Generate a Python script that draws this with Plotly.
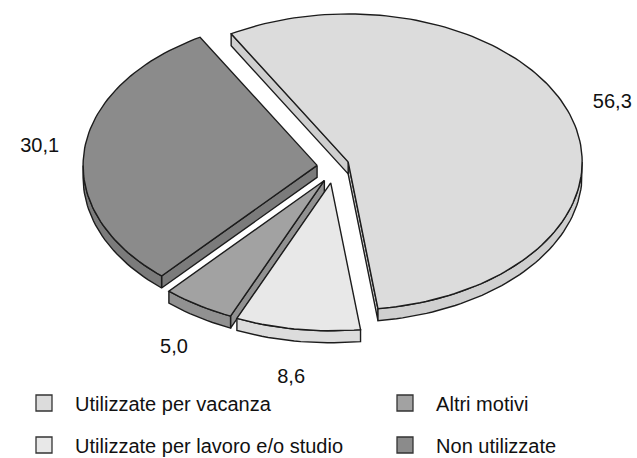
import numpy as np
import plotly.graph_objects as go

# Data
categories = [
    "Utilizzate per vacanza",
    "Utilizzate per lavoro e/o studio",
    "Altri motivi",
    "Non utilizzate",
]
shares = [56.3, 8.6, 5.0, 30.1]
share_labels = ["56,3", "8,6", "5,0", "30,1"]

# Style
face_colors = ["#dcdcdc", "#e8e8e8", "#a2a2a2", "#8b8b8b"]
side_colors = ["#cfcfcf", "#dcdcdc", "#919191", "#7b7b7b"]
OUTLINE = "#1c1c1c"
FONT = "Liberation Sans, Arial, Helvetica, sans-serif"

W, H = 637, 458
CX, CY = 333, 167        # pie centre (pixels)
RX, RY = 234, 148        # ellipse radii of the tilted disc
DEPTH = 12               # thickness of the disc
EXPLODE = 16             # pull-out distance of every slice
START = 120.0            # angle of the first slice edge, slices run clockwise

# legend grid: (x of legend box, y of row centre) in pixels, per category
legend_pos = [(24, 403), (24, 445), (385, 403), (385, 445)]


def arc(ox, oy, a0, a1, n=None):
    if n is None:
        n = max(4, int(abs(a1 - a0) / 1.5))
    t = np.radians(np.linspace(a0, a1, n))
    return ox + RX * np.cos(t), oy - RY * np.sin(t)


def front_parts(lo, hi):
    """Parts of [lo, hi] that face the viewer (lower half of the disc)."""
    parts = []
    for f0, f1 in [(-540, -360), (-180, 0), (180, 360)]:
        s, e = max(lo, f0), min(hi, f1)
        if e > s:
            parts.append((s, e))
    return parts


fig = go.Figure()

total = sum(shares)
slices = []
edge = START
for i, v in enumerate(shares):
    span = v / total * 360.0
    hi, lo = edge, edge - span
    edge = lo
    mid = (hi + lo) / 2
    m = np.radians(mid)
    ox = CX + EXPLODE * np.cos(m)
    oy = CY - EXPLODE * np.sin(m)
    slices.append(dict(i=i, lo=lo, hi=hi, mid=mid, ox=ox, oy=oy))


def poly(xs, ys, color):
    fig.add_trace(go.Scatter(
        x=list(xs) + [xs[0]], y=list(ys) + [ys[0]],
        mode="lines", fill="toself", fillcolor=color,
        line=dict(color=OUTLINE, width=1.4),
        hoverinfo="skip", showlegend=False,
    ))


# back slices first
for s in sorted(slices, key=lambda d: d["oy"]):
    i, lo, hi, ox, oy = s["i"], s["lo"], s["hi"], s["ox"], s["oy"]
    side = side_colors[i]
    # radial side walls that face the viewer
    for ang, visible in [(lo, np.cos(np.radians(lo)) > 0), (hi, np.cos(np.radians(hi)) < 0)]:
        if visible:
            px, py = arc(ox, oy, ang, ang, 1)
            poly([ox, px[0], px[0], ox], [oy, py[0], py[0] + DEPTH, oy + DEPTH], side)
    # curved outer wall
    for a0, a1 in front_parts(lo, hi):
        tx, ty = arc(ox, oy, a0, a1)
        xs = np.concatenate([tx, tx[::-1]])
        ys = np.concatenate([ty, ty[::-1] + DEPTH])
        poly(xs, ys, side)
    # top face
    tx, ty = arc(ox, oy, hi, lo)
    poly(np.concatenate([[ox], tx]), np.concatenate([[oy], ty]), face_colors[i])

# value labels around the disc
lab_x, lab_y = [], []
for s in slices:
    m = np.radians(s["mid"])
    lx = CX + 1.26 * RX * np.cos(m)
    ly = CY - 1.36 * RY * np.sin(m) + (DEPTH if np.sin(m) < 0 else 0)
    lab_x.append(lx)
    lab_y.append(ly)
fig.add_trace(go.Scatter(
    x=lab_x, y=lab_y, mode="text", text=share_labels,
    textposition="middle center",
    textfont=dict(family=FONT, size=20, color="#111111"),
    hoverinfo="skip", showlegend=False,
))

# legend entries, one small legend per grid cell
legends = {}
for i, name in enumerate(categories):
    key = "legend" if i == 0 else f"legend{i + 1}"
    fig.add_trace(go.Scatter(
        x=[None], y=[None], mode="markers", name="\u00a0\u00a0" + name,
        marker=dict(symbol="square", size=16, color=face_colors[i],
                    line=dict(color="#333333", width=1.3)),
        legend=key,
    ))
    lx, ly = legend_pos[i]
    legends[key] = dict(
        x=lx / W, y=1 - ly / H, xanchor="left", yanchor="middle",
        orientation="h", itemsizing="trace",
        font=dict(family=FONT, size=20, color="#111111"),
        bgcolor="rgba(0,0,0,0)", borderwidth=0,
    )

fig.update_layout(
    width=W, height=H,
    margin=dict(l=0, r=0, t=0, b=0, autoexpand=False),
    paper_bgcolor="white", plot_bgcolor="white",
    xaxis=dict(range=[0, W], visible=False, fixedrange=True),
    yaxis=dict(range=[H, 0], visible=False, fixedrange=True),
    showlegend=True,
    **legends,
)

fig.write_html("out.html")
